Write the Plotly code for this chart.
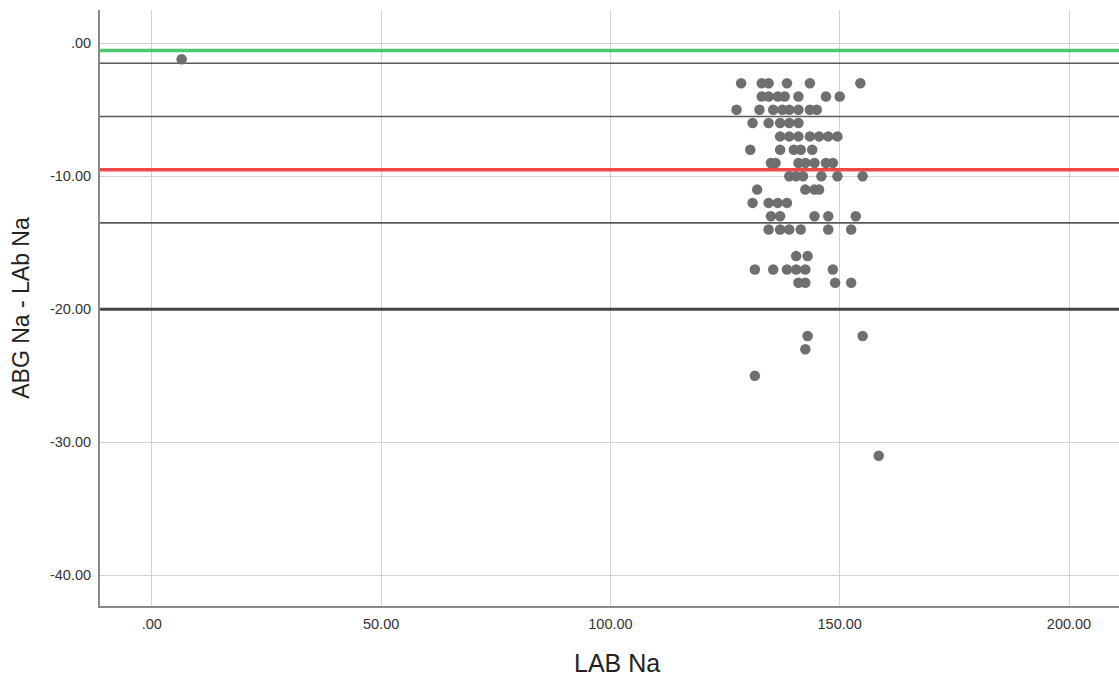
import plotly.graph_objects as go

# Data: (LAB Na, ABG Na - LAb Na)
lab_na = [6.5,
          128.5, 133, 134.5, 138.5, 143.5, 154.5,
          133, 134.5, 136.5, 138, 141, 147, 150,
          127.5, 132.5, 135.5, 137.5, 139, 141, 143.5, 145,
          131, 134.5, 137, 139, 141,
          137, 139, 141, 143.5, 145.5, 147.5, 149.5,
          130.5, 137, 140, 141.5, 144,
          135, 136, 141, 142.5, 144.5, 147, 148.5,
          139, 140.5, 142, 146, 149.5, 155,
          132, 142.5, 144.5, 145.5,
          131, 134.5, 136.5, 138.5,
          135, 137, 144.5, 147.5, 153.5,
          134.5, 137, 139, 141.5, 147.5, 152.5,
          140.5, 143,
          131.5, 135.5, 138.5, 140.5, 142.5, 148.5,
          141, 142.5, 149, 152.5,
          143, 155,
          142.5,
          131.5,
          158.5]
diff_na = [-1.2,
           -3, -3, -3, -3, -3, -3,
           -4, -4, -4, -4, -4, -4, -4,
           -5, -5, -5, -5, -5, -5, -5, -5,
           -6, -6, -6, -6, -6,
           -7, -7, -7, -7, -7, -7, -7,
           -8, -8, -8, -8, -8,
           -9, -9, -9, -9, -9, -9, -9,
           -10, -10, -10, -10, -10, -10,
           -11, -11, -11, -11,
           -12, -12, -12, -12,
           -13, -13, -13, -13, -13,
           -14, -14, -14, -14, -14, -14,
           -16, -16,
           -17, -17, -17, -17, -17, -17,
           -18, -18, -18, -18,
           -22, -22,
           -23,
           -25,
           -31]

# Reference lines
green_line = -0.55
mean_line = -9.5
dark_lines = [-1.5, -5.5, -13.5]
thick_line = -20.0

x_ticks = [0, 50, 100, 150, 200]
x_tick_labels = [".00", "50.00", "100.00", "150.00", "200.00"]
y_ticks = [0, -10, -20, -30, -40]
y_tick_labels = [".00", "-10.00", "-20.00", "-30.00", "-40.00"]

x_range = [-11.3, 210.9]
y_range = [-42.3, 2.5]

fig = go.Figure()

def hline(y, color, width):
    fig.add_trace(go.Scatter(x=x_range, y=[y, y], mode="lines",
                             line=dict(color=color, width=width),
                             hoverinfo="skip", showlegend=False))

for yv in dark_lines:
    hline(yv, "#5a5a5a", 1.6)
hline(thick_line, "#444444", 3)
hline(mean_line, "#f04848", 3.5)
hline(green_line, "#4cc870", 3.5)

fig.add_trace(go.Scatter(x=lab_na, y=diff_na, mode="markers",
                         marker=dict(color="#6f6f6f", size=10.5, line=dict(width=0)),
                         showlegend=False))

fig.update_layout(
    width=1119, height=677,
    margin=dict(l=100, r=0, t=10, b=71),
    paper_bgcolor="white", plot_bgcolor="white",
    font=dict(family="Liberation Sans, Arial, sans-serif", color="#333333"),
    xaxis=dict(range=x_range, tickvals=x_ticks, ticktext=x_tick_labels,
               showgrid=True, gridcolor="#d2d2d2", gridwidth=1,
               zeroline=False, showline=True, linecolor="#8a8a8a", linewidth=2,
               ticks="outside", ticklen=4, tickcolor="rgba(0,0,0,0)",
               tickfont=dict(size=14.5, color="#333333")),
    yaxis=dict(range=y_range, tickvals=y_ticks, ticktext=y_tick_labels,
               showgrid=True, gridcolor="#d2d2d2", gridwidth=1,
               zeroline=False, showline=True, linecolor="#8a8a8a", linewidth=2,
               ticks="outside", ticklen=4, tickcolor="rgba(0,0,0,0)",
               tickfont=dict(size=14.5, color="#333333"),
               title=dict(text="ABG Na - LAb Na", font=dict(size=23, color="#222222"), standoff=14)),
    annotations=[dict(text="LAB Na", xref="paper", yref="paper", x=0.507, y=-0.095,
                      xanchor="center", yanchor="middle", showarrow=False,
                      font=dict(size=25, color="#222222"))],
)

fig.write_html("out.html", config={"displayModeBar": False},
               post_script="document.body.style.margin='0';document.body.style.overflow='hidden';")
